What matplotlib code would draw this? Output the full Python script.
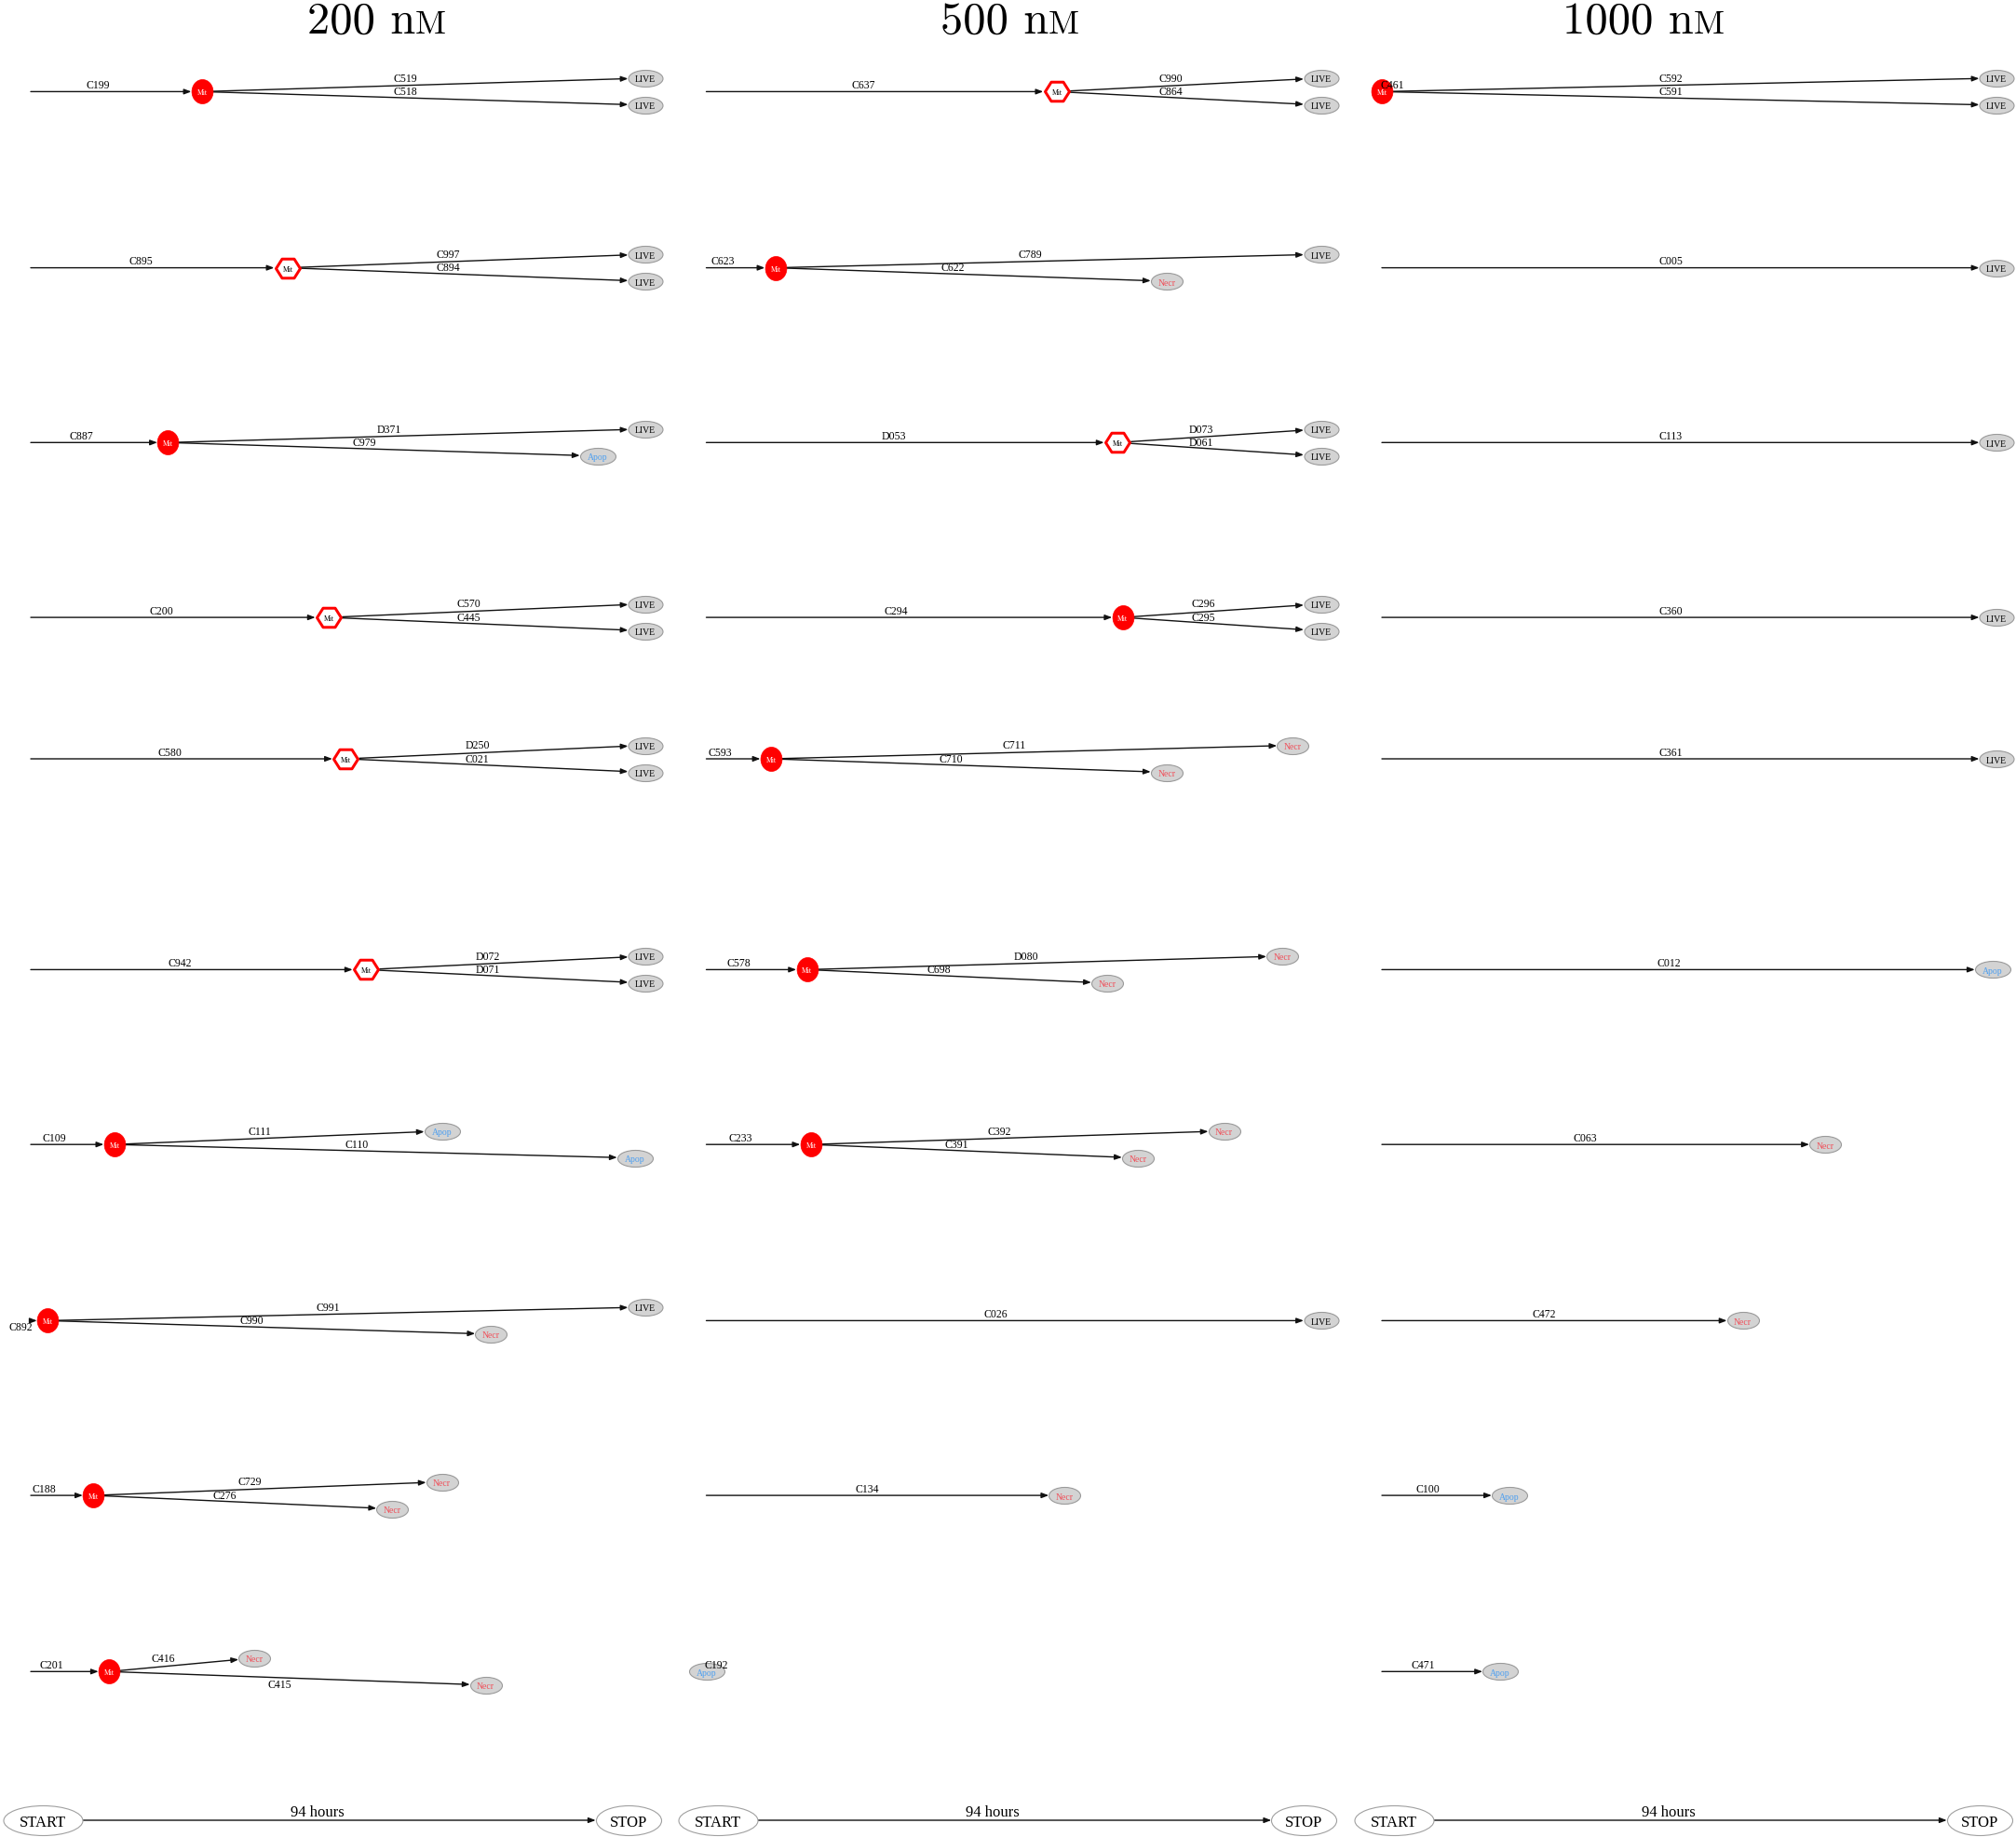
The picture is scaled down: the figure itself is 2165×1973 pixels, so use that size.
import numpy as np
import matplotlib.pyplot as plt
from matplotlib.path import Path

# doses (one column each)
doses = ['200', '500', '1000']
duration = 94  # hours

# 200 nM : root cell, mitosis time (h), mitosis marker, daughters, end times, fates
parent_200 = ['C199', 'C895', 'C887', 'C200', 'C580', 'C942', 'C109', 'C892', 'C188', 'C201']
div_200 = [26.2, 39.3, 21.0, 45.6, 48.2, 51.3, 12.8, 2.6, 9.6, 12.0]
mit_200 = ['filled', 'hex', 'filled', 'hex', 'hex', 'hex', 'filled', 'filled', 'filled', 'filled']
top_200 = ['C519', 'C997', 'D371', 'C570', 'D250', 'D072', 'C111', 'C991', 'C729', 'C416']
top_end_200 = [94, 94, 94, 94, 94, 94, 62.9, 94, 62.9, 34.2]
top_fate_200 = ['LIVE', 'LIVE', 'LIVE', 'LIVE', 'LIVE', 'LIVE', 'Apop', 'LIVE', 'Necr', 'Necr']
bot_200 = ['C518', 'C894', 'C979', 'C445', 'C021', 'D071', 'C110', 'C990', 'C276', 'C415']
bot_end_200 = [94, 94, 86.7, 94, 94, 94, 92.4, 70.4, 55.3, 69.6]
bot_fate_200 = ['LIVE', 'LIVE', 'Apop', 'LIVE', 'LIVE', 'LIVE', 'Apop', 'Necr', 'Necr', 'Necr']
end_200 = [None] * 10
fate_200 = [None] * 10

# 500 nM
parent_500 = ['C637', 'C623', 'D053', 'C294', 'C593', 'C578', 'C233', 'C026', 'C134', 'C192']
div_500 = [53.6, 10.6, 62.9, 63.7, 9.9, 15.4, 16.0, None, None, None]
mit_500 = ['hex', 'filled', 'hex', 'filled', 'filled', 'filled', 'filled', None, None, None]
top_500 = ['C990', 'C789', 'D073', 'C296', 'C711', 'D080', 'C392', None, None, None]
top_end_500 = [94, 94, 94, 94, 89.7, 88.1, 79.2, None, None, None]
top_fate_500 = ['LIVE', 'LIVE', 'LIVE', 'LIVE', 'Necr', 'Necr', 'Necr', None, None, None]
bot_500 = ['C864', 'C622', 'D061', 'C295', 'C710', 'C698', 'C391', None, None, None]
bot_end_500 = [94, 70.4, 94, 94, 70.4, 61.3, 66.0, None, None, None]
bot_fate_500 = ['LIVE', 'Necr', 'LIVE', 'LIVE', 'Necr', 'Necr', 'Necr', None, None, None]
end_500 = [None] * 7 + [94, 54.8, 0.0]
fate_500 = [None] * 7 + ['LIVE', 'Necr', 'Apop']

# 1000 nM
parent_1000 = ['C461', 'C005', 'C113', 'C360', 'C361', 'C012', 'C063', 'C472', 'C100', 'C471']
div_1000 = [0.0] + [None] * 9
mit_1000 = ['filled'] + [None] * 9
top_1000 = ['C592'] + [None] * 9
top_end_1000 = [94] + [None] * 9
top_fate_1000 = ['LIVE'] + [None] * 9
bot_1000 = ['C591'] + [None] * 9
bot_end_1000 = [94] + [None] * 9
bot_fate_1000 = ['LIVE'] + [None] * 9
end_1000 = [None, 94, 94, 94, 94, 93.4, 67.8, 55.2, 19.5, 18.1]
fate_1000 = [None, 'LIVE', 'LIVE', 'LIVE', 'LIVE', 'Apop', 'Necr', 'Necr', 'Apop', 'Apop']

columns = {
    '200': (parent_200, div_200, mit_200, top_200, top_end_200, top_fate_200,
            bot_200, bot_end_200, bot_fate_200, end_200, fate_200),
    '500': (parent_500, div_500, mit_500, top_500, top_end_500, top_fate_500,
            bot_500, bot_end_500, bot_fate_500, end_500, fate_500),
    '1000': (parent_1000, div_1000, mit_1000, top_1000, top_end_1000, top_fate_1000,
             bot_1000, bot_end_1000, bot_fate_1000, end_1000, fate_1000),
}
labels_below = {'C892', 'C415'}

# layout
W, H = 2165, 1974
PT = 100 / 72            # pixels per point
PX = 660 / duration      # pixels per hour
col_w = 725.5
row_y = [99.4, 288.6, 476.3, 664.1, 816.0, 1042.4, 1230.2, 1419.4, 1607.1, 1796.3]
child_dy = 14.5
bar_y = 1956
bar_start, bar_stop = 1.8, 91.4
serif = 'Liberation Serif'

fate_color = {'LIVE': 'black', 'Necr': '#f0505a', 'Apop': '#4d9ff0'}
fate_w = {'LIVE': 37, 'Necr': 34, 'Apop': 38}
mit_halfw = {'filled': 11.5, 'hex': 14.5}


def ellipse_marker(sx, sy):
    c = Path.unit_circle()
    return Path(c.vertices * [sx, sy], c.codes)


hex_marker = Path([(-1, 0), (-0.5, 0.79), (0.5, 0.79), (1, 0),
                   (0.5, -0.79), (-0.5, -0.79), (-1, 0)], closed=True)


def end_node(ax, t, y, fate):
    w = fate_w[fate]
    ax.plot(t, y, marker=ellipse_marker(1, 18 / w), ms=w / PT, mfc='#d3d3d3',
            mec='#9a9a9a', mew=0.8, zorder=3)
    ax.text(t, y, fate, fontsize=7, family=serif, color=fate_color[fate],
            ha='center', va='center_baseline', zorder=4)


def mit_node(ax, t, y, style):
    if style == 'filled':
        ax.plot(t, y, marker=ellipse_marker(0.88, 1), ms=26 / PT, mfc='red',
                mec='red', mew=0.5, zorder=3)
        tc = 'white'
    else:
        ax.plot(t, y, marker=hex_marker, ms=26 / PT, mfc='white', mec='red',
                mew=3 / PT, zorder=3)
        tc = 'black'
    ax.text(t, y, 'Mit', fontsize=5.5, family=serif, color=tc,
            ha='center', va='center_baseline', zorder=4)


def edge(ax, t0, y0, t1, y1, label, shA, shB, fs=8.5):
    if abs(t1 - t0) > 0.3:
        ax.annotate('', xy=(t1, y1), xytext=(t0, y0), zorder=2,
                    arrowprops=dict(arrowstyle='-|>,head_length=0.45,head_width=0.17',
                                    color='#111111', lw=1.0, shrinkA=shA, shrinkB=shB,
                                    mutation_scale=10))
        dx = -14
    else:
        dx = 8
    below = label in labels_below
    ax.annotate(label, xy=((t0 + t1) / 2, (y0 + y1) / 2), xytext=(dx, -0.5 if below else 1),
                textcoords='offset points', ha='center', va='top' if below else 'bottom',
                fontsize=fs, family=serif, zorder=5)


fig = plt.figure(figsize=(W / 100, H / 100), dpi=100)

for i, dose in enumerate(doses):
    ax = fig.add_axes([i * col_w / W, 0, col_w / W, 1])
    ax.set_xlim(-33 / PX, (col_w - 33) / PX)
    ax.set_ylim(H, 0)
    ax.axis('off')

    (parent, div, mit, top, top_end, top_fate,
     bot, bot_end, bot_fate, end, fate) = columns[dose]

    for r, y in enumerate(row_y):
        if div[r] is not None:
            hw = mit_halfw[mit[r]] / PT
            edge(ax, 0, y, div[r], y, parent[r], 0, hw)
            mit_node(ax, div[r], y, mit[r])
            for lab, te, fa, yy in [(top[r], top_end[r], top_fate[r], y - child_dy),
                                    (bot[r], bot_end[r], bot_fate[r], y + child_dy)]:
                edge(ax, div[r], y, te, yy, lab, hw, fate_w[fa] / 2 / PT)
                end_node(ax, te, yy, fa)
        else:
            edge(ax, 0, y, end[r], y, parent[r], 0, fate_w[fate[r]] / 2 / PT)
            end_node(ax, end[r], y, fate[r])

    # START -> STOP scale bar
    ax.plot(bar_start, bar_y, marker=ellipse_marker(1, 32 / 85), ms=85 / PT,
            mfc='white', mec='#a0a0a0', mew=0.8, zorder=3)
    ax.plot(bar_stop, bar_y, marker=ellipse_marker(1, 32 / 70), ms=70 / PT,
            mfc='white', mec='#a0a0a0', mew=0.8, zorder=3)
    ax.text(bar_start, bar_y, 'START', fontsize=12, family=serif,
            ha='center', va='center_baseline', zorder=4)
    ax.text(bar_stop, bar_y, 'STOP', fontsize=12, family=serif,
            ha='center', va='center_baseline', zorder=4)
    edge(ax, bar_start, bar_y, bar_stop, bar_y, f'{duration} hours',
         42.5 / PT, 35 / PT, fs=12)

# titles "200 nM" with small-cap M
title_split = [446, 1126, 1819]
for dose, xs in zip(doses, title_split):
    fig.text(xs / W, 1 - 36 / H, dose + ' n', family='cmr10', fontsize=35,
             ha='right', va='baseline')
    fig.text(xs / W, 1 - 36 / H, 'M', family='cmr10', fontsize=26,
             ha='left', va='baseline')

fig.savefig('out.png', dpi=100)
